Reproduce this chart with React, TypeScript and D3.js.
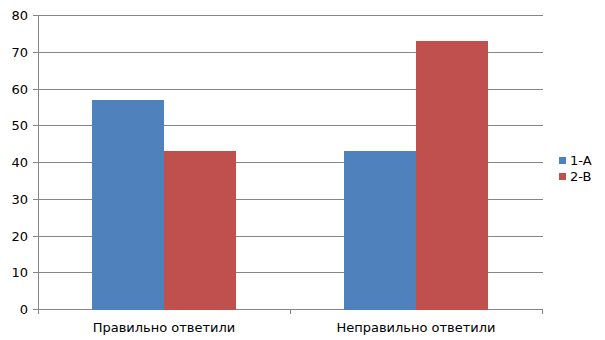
import React from "react";
import * as d3 from "d3";

const categories = ["Правильно ответили", "Неправильно ответили"];
const seriesNames = ["1-A", "2-B"];
const series1 = [57, 43];
const series2 = [43, 73];
const yTicks = [0, 10, 20, 30, 40, 50, 60, 70, 80];
const colors = ["#4F81BD", "#C0504D"];

export default function App() {
  const W = 605, H = 340;
  const left = 38, right = 542, top = 15, bottom = 309;
  const font = "DejaVu Sans, sans-serif";
  const x = d3.scaleBand<string>().domain(categories).range([left, right]).paddingInner(0).paddingOuter(0);
  const y = d3.scaleLinear().domain([0, 80]).range([bottom, top]);
  const inner = d3.scaleBand<string>().domain(seriesNames).range([0, x.bandwidth()]).paddingInner(0).paddingOuter(0.75);
  const values = [series1, series2];
  const grid = "#868686";
  return (
    <svg width={W} height={H} style={{ position: "absolute", left: 0, top: 0 }} fontFamily={font}>
      <rect x={0} y={0} width={W} height={H} fill="#fff" />
      {yTicks.map((t) => (
        <g key={t}>
          <line x1={left - 5} x2={right + 1} y1={Math.round(y(t)) + 0.5} y2={Math.round(y(t)) + 0.5} stroke={grid} strokeWidth={1} />
          <text x={28} y={Math.round(y(t)) + 0.5} dy="0.35em" textAnchor="end" fontSize={13} fill="#000">{t}</text>
        </g>
      ))}
      {categories.map((c, ci) =>
        seriesNames.map((s, si) => {
          const bx = (x(c) as number) + (inner(s) as number);
          const by = Math.round(y(values[si][ci]));
          return (
            <rect key={c + s} x={bx} y={by} width={inner.bandwidth()} height={bottom + 0.5 - by} fill={colors[si]} shapeRendering="crispEdges" />
          );
        })
      )}
      <line x1={left + 0.5} x2={left + 0.5} y1={top} y2={bottom + 0.5} stroke={grid} />
      {[...categories.map((c) => x(c) as number), right].map((v, i) => (
        <line key={i} x1={v + 0.5} x2={v + 0.5} y1={bottom} y2={bottom + 5} stroke={grid} />
      ))}
      {categories.map((c) => (
        <text key={c} x={(x(c) as number) + x.bandwidth() / 2} y={332} textAnchor="middle" fontSize={13} fill="#000">{c}</text>
      ))}
      {seriesNames.map((s, i) => (
        <g key={s}>
          <rect x={559} y={157 + i * 16} width={7} height={7} fill={colors[i]} />
          <text x={570} y={165 + i * 16} fontSize={13} fill="#000">{s}</text>
        </g>
      ))}
    </svg>
  );
}
